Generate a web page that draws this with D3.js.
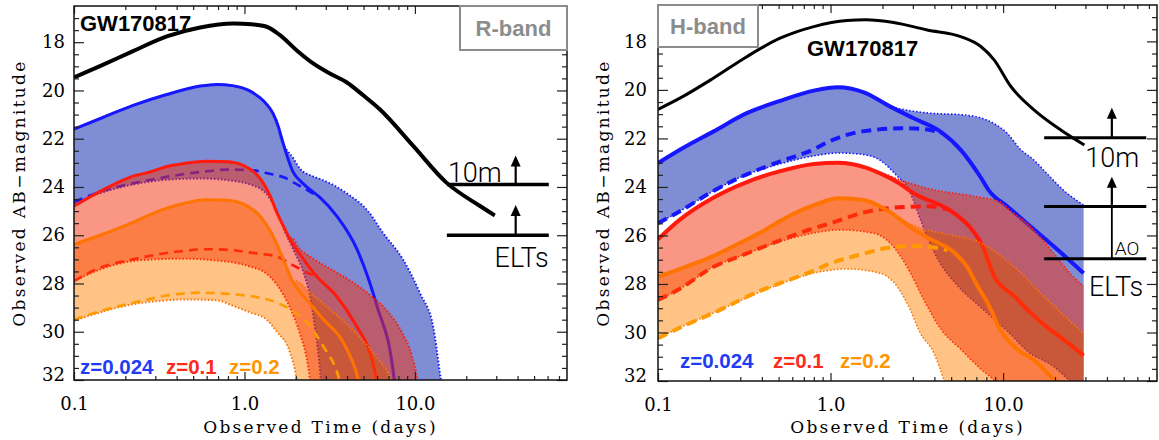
<!DOCTYPE html>
<html>
<head>
<meta charset="utf-8">
<script src="https://cdn.jsdelivr.net/npm/d3@7"></script>
<style>
  body { margin: 0; background: #fff; }
  svg { display: block; }
</style>
</head>
<body>
<svg id="chart" width="1159" height="440"></svg>
<script>
// values are [time in days, AB magnitude]

// ---- R-band (left panel) ----
const rBlack = [[0.1,19.46],[0.142,18.99],[0.222,18.37],[0.35,17.76],[0.55,17.39],[0.86,17.23],[1.1,17.26],[1.35,17.36],[1.61,17.7],[2.02,18.33],[2.53,18.88],[3.17,19.3],[3.97,19.66],[4.97,20.2],[6.24,20.79],[9.77,22.3],[15.3,23.82],[24.1,24.79],[29.4,25.18]];

const rBlueSolid = [[0.1,21.6],[0.15,21.1],[0.222,20.62],[0.35,20.17],[0.55,19.82],[0.69,19.75],[0.85,19.8],[1.08,20.03],[1.3,20.45],[1.47,20.95],[1.58,21.5],[1.68,22.15],[1.92,23.35],[2.2,23.85],[2.42,24.1],[2.77,24.43],[3.49,25.22],[4.57,26.58],[5.99,28.94],[7.47,31.7],[7.8,33]];
const rBlueUpperTail = [[1.62,21.9],[1.93,22.8],[2.12,23.25],[2.5,23.55],[2.85,23.7],[4.05,24.3],[5.3,25.0],[6.49,25.9],[8.5,27.0],[10.7,28.4],[12.8,29.8],[14.0,31.7],[14.8,33]];
const rBlueDashed = [[0.1,24.62],[0.15,24.15],[0.222,23.85],[0.35,23.58],[0.55,23.38],[0.8,23.28],[1.08,23.3],[1.4,23.45],[1.7,23.6],[2.1,23.95],[2.5,24.25],[2.77,24.43]];
const rBlueLower = [[0.1,24.7],[0.142,24.26],[0.222,23.9],[0.35,23.7],[0.55,23.65],[0.86,23.75],[1.08,23.9],[1.35,24.3],[1.55,25.0],[1.69,25.7],[1.93,26.58],[2.22,27.55],[2.42,28.5],[2.6,29.9],[2.72,31.0],[2.8,32],[2.85,33]];

const rRedSolid = [[0.1,24.79],[0.15,24.1],[0.222,23.55],[0.28,23.38],[0.35,23.15],[0.44,23.03],[0.6,22.93],[0.8,22.95],[0.98,23.1],[1.25,23.7],[1.4,24.3],[1.55,25.06],[1.7,25.65],[1.85,26.17],[2.22,27.0],[2.64,27.69],[3.46,28.52],[4.54,29.76],[5.44,30.86],[5.96,31.97],[6.3,33]];
const rRedUpperTail = [[1.88,26.1],[2.1,26.55],[2.5,26.95],[3.2,27.4],[4.2,27.9],[5.5,28.5],[7.0,29.2],[8.5,30.1],[9.6,31.0],[10.3,32],[10.7,33]];
const rRedDashed = [[0.1,27.9],[0.142,27.35],[0.222,27.0],[0.28,26.85],[0.44,26.65],[0.6,26.58],[0.86,26.62],[1.08,26.72],[1.35,26.8],[1.55,26.88],[1.93,27.25],[2.42,27.6],[2.64,27.72]];
const rRedLower = [[0.1,27.9],[0.142,27.42],[0.222,27.07],[0.3,27.0],[0.45,26.97],[0.69,27.05],[0.86,27.13],[1.08,27.3],[1.35,27.6],[1.55,28.05],[1.85,29.0],[2.12,30.1],[2.3,31.0],[2.42,31.97],[2.5,33]];

const rOrangeSolid = [[0.1,26.38],[0.142,26.0],[0.2,25.6],[0.28,25.15],[0.35,24.88],[0.44,24.68],[0.6,24.53],[0.8,24.55],[0.98,24.7],[1.23,25.2],[1.47,26.03],[1.69,27.0],[1.93,27.96],[2.3,28.65],[2.9,29.48],[3.8,30.45],[4.65,31.97],[5.0,33]];
const rOrangeUpperTail = [[2.0,27.9],[2.4,28.35],[2.9,28.85],[3.8,29.55],[5.0,30.4],[6.2,31.2],[7.2,32],[7.8,33]];
const rOrangeDashed = [[0.1,29.5],[0.142,29.15],[0.222,28.8],[0.35,28.5],[0.55,28.38],[0.86,28.45],[1.08,28.52],[1.35,28.65],[1.55,28.79],[1.93,29.15],[2.42,29.76],[2.9,30.6],[3.5,31.7],[3.8,32.6]];
const rOrangeLower = [[0.1,29.55],[0.142,29.2],[0.222,28.86],[0.35,28.7],[0.44,28.66],[0.69,28.7],[0.86,28.93],[1.08,29.2],[1.35,29.5],[1.55,30.0],[1.85,30.86],[2.02,31.97],[2.1,33]];

// ---- H-band (right panel) ----
const hBlack = [[0.1,20.8],[0.134,20.34],[0.209,19.52],[0.327,18.63],[0.51,17.87],[0.8,17.39],[1.245,17.14],[1.6,17.11],[2.32,17.22],[3.63,17.53],[5.68,17.8],[7.4,18.2],[8.87,18.76],[11.1,19.86],[15.1,20.82],[21.6,21.65],[29.6,22.27]];

const hBlueSolid = [[0.1,23.02],[0.134,22.47],[0.209,21.72],[0.327,20.96],[0.51,20.45],[0.8,20.03],[1.1,19.89],[1.56,20.1],[2.22,20.69],[3.03,21.17],[4.34,21.72],[5.68,22.47],[7.38,23.58],[8.28,24.15],[10.6,24.81],[14.5,25.64],[20.8,26.6],[29.3,27.56]];
const hBlueUpperTail = [[2.4,20.75],[3.03,20.88],[3.78,20.96],[5.9,21.03],[8.1,21.25],[10.6,21.8],[12.6,22.45],[15.0,22.88],[17.9,23.44],[22.5,24.15],[29.3,24.75]];
const hBlueDashed = [[0.1,25.5],[0.134,25.0],[0.2,24.25],[0.3,23.6],[0.51,22.95],[0.8,22.45],[1.0,22.1],[1.56,21.7],[2.78,21.58],[3.78,21.65],[4.4,21.78]];
const hBlueLower = [[0.1,25.5],[0.134,25.0],[0.2,24.25],[0.3,23.6],[0.51,23.05],[0.8,22.72],[1.1,22.6],[1.5,22.65],[1.94,22.9],[2.43,23.55],[2.78,24.0],[3.0,24.5],[3.3,25.3],[3.6,26.0],[4.2,27.0],[5.5,28.1],[7.4,28.95],[10.6,29.95],[14.0,30.8],[19.6,31.4],[24.5,32.0],[29.3,32.4]];

const hRedSolid = [[0.1,26.16],[0.134,25.35],[0.209,24.45],[0.327,23.8],[0.51,23.35],[0.8,23.05],[1.1,23.0],[1.6,23.2],[1.94,23.44],[2.5,23.85],[3.03,24.26],[4.75,24.9],[5.7,25.3],[6.5,25.7],[7.5,26.35],[8.9,27.7],[11.6,28.5],[14.0,29.1],[18.1,29.8],[21.6,30.2],[29.3,30.95]];
const hRedUpperTail = [[2.0,23.45],[2.5,23.7],[3.6,24.05],[7.0,24.4],[9.5,24.6],[11.1,25.0],[13.8,25.5],[17.0,26.2],[20.5,26.9],[24.0,27.5],[29.3,28.1]];
const hRedDashed = [[0.1,28.66],[0.134,28.2],[0.209,27.3],[0.3,26.85],[0.51,26.2],[0.8,25.7],[1.0,25.5],[1.56,25.05],[2.78,24.82],[3.78,24.8],[4.75,24.92]];
const hRedLower = [[0.1,28.66],[0.134,28.2],[0.209,27.3],[0.3,26.85],[0.51,26.25],[0.8,25.9],[1.13,25.77],[1.78,25.91],[2.22,26.32],[2.78,27.3],[3.5,28.7],[4.4,29.9],[5.7,30.7],[7.4,31.5],[8.9,32.0],[10,32.5],[29.3,33]];

const hOrangeSolid = [[0.1,27.7],[0.15,27.25],[0.209,26.85],[0.3,26.3],[0.4,25.85],[0.51,25.4],[0.8,24.75],[1.13,24.47],[1.56,24.54],[2.22,25.05],[3.03,25.75],[3.78,26.15],[5.2,26.7],[6.2,27.3],[7.0,28.0],[8.3,28.9],[9.5,29.8],[12.6,30.8],[14.5,31.05],[18.5,31.75],[20.5,32.1],[22,32.4]];
const hOrangeUpperTail = [[2.6,25.35],[3.5,25.75],[4.75,25.95],[7.4,26.3],[11.6,27.3],[18.1,28.66],[29.3,30.05]];
const hOrangeDashed = [[0.1,30.24],[0.134,29.8],[0.209,29.2],[0.4,28.25],[0.51,27.97],[0.8,27.45],[1.0,27.15],[1.56,26.75],[1.94,26.57],[2.5,26.46],[3.03,26.43],[4.0,26.5],[4.75,26.6]];
const hOrangeLower = [[0.1,30.24],[0.134,29.8],[0.209,29.2],[0.4,28.3],[0.51,28.0],[0.8,27.55],[1.25,27.38],[1.94,27.56],[2.43,28.1],[2.9,29.07],[3.3,30.0],[3.98,30.86],[4.54,31.96],[4.8,32.5],[29.3,33]];

// detection limits: [label, magnitude, arrow tip magnitude or null]
const rLimits = [["10m", 23.9, 22.7], ["ELTs", 26.0, 24.75]];
const rLimitSpan = [15.4, 61];
const rArrowT = 39;
const hLimits = [["10m", 21.97, 20.74], ["ELTs", 24.81, 23.58], ["AO", 26.96, null]];
const hLimitSpan = [17.3, 67.6];
const hArrowT = 42.7;

const redshifts = ["z=0.024", "z=0.1", "z=0.2"];
const xMajorTicks = [0.1, 1, 10];
const xMinorTicks = [0.2,0.3,0.4,0.5,0.6,0.7,0.8,0.9,2,3,4,5,6,7,8,9,20,30,40,50,60,70];
const yMajorTicks = [18, 20, 22, 24, 26, 28, 30, 32];
const yMinorTicks = d3.range(17, 32, 0.5).filter(v => v % 2 !== 0);

const timeDomain = [0.1, 78];
const magDomain = [16.5, 32];

const blueLine = "#1616ff", redLine = "#ff1a0d", orangeLine = "#ff7300", orangeDash = "#ff9a00";
const bandStyles = [
  { fill: "rgb(0,30,170)", layers: [[0.5, "normal"]], line: blueLine, dash: blueLine, text: "#1f3cf5" },
  { fill: "rgb(245,45,10)", layers: [[0.5, "normal"]], line: redLine, dash: redLine, text: "#ff2a1a" },
  { fill: "rgb(255,140,0)", layers: [[0.22, "normal"], [0.33, "multiply"]], line: orangeLine, dash: orangeDash, text: "#ff9600" }
];

const serif = "DejaVu Serif";
const sans = "Liberation Sans";
const svg = d3.select("#chart");
const defs = svg.append("defs");

function drawPanel(p) {
  const x = d3.scaleLog().domain(timeDomain).range([p.left, p.left + p.width]);
  const y = d3.scaleLinear().domain(magDomain).range([p.top, p.top + p.height]);
  const line = d3.line().x(d => x(d[0])).y(d => y(d[1])).curve(d3.curveMonotoneX);

  defs.append("clipPath").attr("id", "clip-" + p.id)
    .append("rect")
    .attr("x", p.left).attr("y", p.top)
    .attr("width", p.width).attr("height", p.height);

  const g = svg.append("g");
  const plot = g.append("g").attr("clip-path", `url(#clip-${p.id})`);

  p.bands.forEach((b, i) => {
    const st = bandStyles[i];
    const start = b.upperTail[0][0];
    const upper = b.solid.filter(d => d[0] < start).concat(b.upperTail);
    const lowerRev = b.lower.slice().reverse();
    const area = line(upper) + line(lowerRev).replace(/^M/, "L") + "Z";

    st.layers.forEach(([op, blend]) => {
      plot.append("path")
        .attr("d", area)
        .attr("fill", st.fill)
        .attr("fill-opacity", op)
        .style("mix-blend-mode", blend);
    });

    [upper, b.lower].forEach(c => {
      plot.append("path")
        .attr("d", line(c))
        .attr("fill", "none")
        .attr("stroke", st.line)
        .attr("stroke-width", p.dotWidth)
        .attr("stroke-dasharray", "1.5,2");
    });

    plot.append("path")
      .attr("d", line(b.dashed))
      .attr("fill", "none")
      .attr("stroke", st.dash)
      .attr("stroke-width", p.dashWidth)
      .attr("stroke-dasharray", p.dashPattern);

    plot.append("path")
      .attr("d", line(b.solid))
      .attr("fill", "none")
      .attr("stroke", st.line)
      .attr("stroke-width", p.solidWidth);
  });

  plot.append("path")
    .attr("d", line(p.black))
    .attr("fill", "none")
    .attr("stroke", "#000")
    .attr("stroke-width", p.blackWidth)
    .attr("stroke-linejoin", "round");

  // detection limits
  const lim = g.append("g").attr("stroke", "#000");
  p.limits.forEach(([label, mag, tip]) => {
    lim.append("line")
      .attr("x1", x(p.limitSpan[0])).attr("x2", x(p.limitSpan[1]))
      .attr("y1", y(mag)).attr("y2", y(mag))
      .attr("stroke-width", p.limitWidth);
    if (tip !== null) {
      const ax = x(p.arrowT);
      lim.append("line")
        .attr("x1", ax).attr("x2", ax)
        .attr("y1", y(mag)).attr("y2", y(tip) + 8)
        .attr("stroke-width", 2.2);
      lim.append("path")
        .attr("d", `M${ax},${y(tip)}L${ax - 5},${y(tip) + 11}L${ax + 5},${y(tip) + 11}Z`)
        .attr("fill", "#000").attr("stroke", "none");
    }
  });

  // axes
  const tickStyle = sel => {
    sel.select(".domain").remove();
    sel.selectAll(".tick line").attr("stroke", "#222").attr("stroke-width", 1.2);
    sel.attr("font-family", serif).attr("font-size", 18);
    sel.selectAll(".tick text").attr("fill", "#000");
  };
  const bottom = p.top + p.height, right = p.left + p.width;

  g.append("g").attr("transform", `translate(0,${bottom})`)
    .call(d3.axisBottom(x).tickValues(xMajorTicks).tickSize(-8).tickPadding(17).tickFormat(d3.format(".1f")))
    .call(tickStyle);
  g.append("g").attr("transform", `translate(0,${bottom})`)
    .call(d3.axisBottom(x).tickValues(xMinorTicks).tickSize(-4).tickFormat(""))
    .call(tickStyle);
  g.append("g").attr("transform", `translate(0,${p.top})`)
    .call(d3.axisTop(x).tickValues(xMajorTicks).tickSize(-8).tickFormat(""))
    .call(tickStyle);
  g.append("g").attr("transform", `translate(0,${p.top})`)
    .call(d3.axisTop(x).tickValues(xMinorTicks).tickSize(-4).tickFormat(""))
    .call(tickStyle);

  const yAxis = g.append("g").attr("transform", `translate(${p.left},0)`)
    .call(d3.axisLeft(y).tickValues(yMajorTicks).tickSize(-10).tickPadding(p.yPad).tickFormat(d3.format("d")))
    .call(tickStyle);
  yAxis.selectAll(".tick text").filter(d => d === 32).attr("dy", "0");
  g.append("g").attr("transform", `translate(${p.left},0)`)
    .call(d3.axisLeft(y).tickValues(yMinorTicks).tickSize(-5).tickFormat(""))
    .call(tickStyle);
  g.append("g").attr("transform", `translate(${right},0)`)
    .call(d3.axisRight(y).tickValues(yMajorTicks).tickSize(-10).tickFormat(""))
    .call(tickStyle);
  g.append("g").attr("transform", `translate(${right},0)`)
    .call(d3.axisRight(y).tickValues(yMinorTicks).tickSize(-5).tickFormat(""))
    .call(tickStyle);

  g.append("rect")
    .attr("x", p.left).attr("y", p.top)
    .attr("width", p.width).attr("height", p.height)
    .attr("fill", "none").attr("stroke", "#111").attr("stroke-width", 1.5);

  // axis titles
  g.append("text")
    .attr("x", (p.left + right) / 2).attr("y", 433)
    .attr("text-anchor", "middle")
    .attr("font-family", serif).attr("font-size", 17)
    .attr("letter-spacing", 2.3)
    .text("Observed Time (days)");
  g.append("text")
    .attr("transform", `translate(${p.left - 49},${(p.top + bottom) / 2}) rotate(-90)`)
    .attr("text-anchor", "middle")
    .attr("font-family", serif).attr("font-size", 17)
    .attr("letter-spacing", 2.3)
    .text("Observed AB\u2212magnitude");

  // band label box
  g.append("rect")
    .attr("x", p.boxX).attr("y", p.top)
    .attr("width", p.boxW).attr("height", p.boxH)
    .attr("fill", "#fff").attr("stroke", "#8c8c8c").attr("stroke-width", 2);
  g.append("text")
    .attr("x", p.boxX + p.boxW / 2).attr("y", p.top + p.boxH / 2 + 8)
    .attr("text-anchor", "middle")
    .attr("font-family", sans).attr("font-weight", "bold").attr("font-size", 22)
    .attr("fill", "#8c8c8c")
    .text(p.band);

  g.append("text")
    .attr("x", p.gwX).attr("y", p.gwY)
    .attr("font-family", sans).attr("font-weight", "bold").attr("font-size", 22)
    .text("GW170817");

  redshifts.forEach((z, i) => {
    g.append("text")
      .attr("x", p.legendX[i]).attr("y", p.legendY)
      .attr("font-family", sans).attr("font-weight", "bold").attr("font-size", 20.5)
      .attr("fill", bandStyles[i].text)
      .text(z);
  });

  return { x, y, g };
}

// left panel
const left = drawPanel({
  id: "r", left: 74, top: 6, width: 493, height: 374,
  bands: [
    { solid: rBlueSolid, upperTail: rBlueUpperTail, dashed: rBlueDashed, lower: rBlueLower },
    { solid: rRedSolid, upperTail: rRedUpperTail, dashed: rRedDashed, lower: rRedLower },
    { solid: rOrangeSolid, upperTail: rOrangeUpperTail, dashed: rOrangeDashed, lower: rOrangeLower }
  ],
  black: rBlack,
  limits: rLimits, limitSpan: rLimitSpan, arrowT: rArrowT, limitWidth: 3.5,
  solidWidth: 3, dashWidth: 2.6, dashPattern: "9,6", dotWidth: 2, blackWidth: 4,
  yPad: 9, band: "R-band", boxX: 460, boxW: 107, boxH: 44,
  gwX: 80, gwY: 31, legendX: [80, 166, 229], legendY: 374
});
left.g.append("text")
  .attr("x", left.x(rLimitSpan[0]) + 1).attr("y", left.y(rLimits[0][1]) - 3)
  .attr("font-family", "Roboto").attr("font-weight", 300).attr("font-size", 27)
  .text(rLimits[0][0]);
left.g.append("text")
  .attr("x", left.x(rLimitSpan[1])).attr("y", left.y(rLimits[1][1]) + 32)
  .attr("text-anchor", "end")
  .attr("font-family", "Roboto").attr("font-weight", 300).attr("font-size", 27)
  .text(rLimits[1][0]);

// right panel
const rightP = drawPanel({
  id: "h", left: 658, top: 5, width: 499, height: 376,
  bands: [
    { solid: hBlueSolid, upperTail: hBlueUpperTail, dashed: hBlueDashed, lower: hBlueLower },
    { solid: hRedSolid, upperTail: hRedUpperTail, dashed: hRedDashed, lower: hRedLower },
    { solid: hOrangeSolid, upperTail: hOrangeUpperTail, dashed: hOrangeDashed, lower: hOrangeLower }
  ],
  black: hBlack,
  limits: hLimits, limitSpan: hLimitSpan, arrowT: hArrowT, limitWidth: 3,
  solidWidth: 4, dashWidth: 4, dashPattern: "10,6", dotWidth: 1.6, blackWidth: 3,
  yPad: 11, band: "H-band", boxX: 658, boxW: 100, boxH: 42,
  gwX: 807, gwY: 56, legendX: [680, 773, 840], legendY: 368
});
{
  const { x, y, g } = rightP;
  const ax = x(hArrowT);
  g.append("line")
    .attr("x1", ax).attr("x2", ax)
    .attr("y1", y(hLimits[1][1])).attr("y2", y(hLimits[2][1]))
    .attr("stroke", "#000").attr("stroke-width", 1.8);
  g.append("text")
    .attr("x", x(hLimitSpan[1]) - 7).attr("y", y(hLimits[0][1]) + 29)
    .attr("text-anchor", "end")
    .attr("font-family", "Roboto").attr("font-weight", 300).attr("font-size", 27)
    .text(hLimits[0][0]);
  g.append("text")
    .attr("x", ax + 3).attr("y", y(hLimits[2][1]) - 4)
    .attr("font-family", "Roboto").attr("font-weight", 300).attr("font-size", 19)
    .text(hLimits[2][0]);
  g.append("text")
    .attr("x", x(hLimitSpan[1]) - 3).attr("y", y(hLimits[2][1]) + 37)
    .attr("text-anchor", "end")
    .attr("font-family", "Roboto").attr("font-weight", 300).attr("font-size", 27)
    .text(hLimits[1][0]);
}
</script>
</body>
</html>
